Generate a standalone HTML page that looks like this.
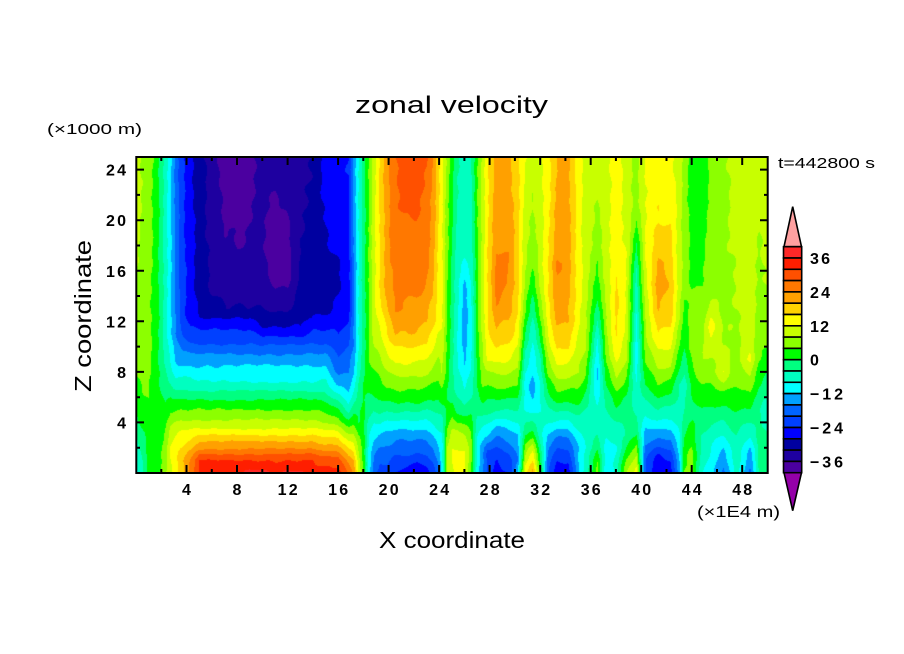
<!DOCTYPE html>
<html>
<head>
<meta charset="utf-8">
<style>
  html,body{margin:0;padding:0;background:#fff;}
  #wrap{position:relative;width:904px;height:654px;overflow:hidden;background:#fff;}
  #cv{position:absolute;left:136px;top:157px;width:632px;height:316px;}
  #ov{position:absolute;left:0;top:0;}
  text{font-family:"Liberation Sans",sans-serif;fill:#000;}
  .tl{font-size:16px;font-weight:bold;}
</style>
</head>
<body>
<div id="wrap">
<canvas id="cv" width="632" height="316"></canvas>
<svg id="ov" width="904" height="654" viewBox="0 0 904 654" xmlns="http://www.w3.org/2000/svg">
  <rect x="136.3" y="157" width="631.4" height="316" fill="none" stroke="#000" stroke-width="2"/>
  <path stroke="#000" stroke-width="2" fill="none" d="
  M186.5 473V465 M237 473V465 M287.6 473V465 M338.1 473V465 M388.6 473V465 M439.1 473V465 M489.6 473V465 M540.2 473V465 M590.7 473V465 M641.2 473V465 M691.7 473V465 M742.2 473V465
  M161.3 473V469 M211.8 473V469 M262.3 473V469 M312.8 473V469 M363.3 473V469 M413.9 473V469 M464.4 473V469 M514.9 473V469 M565.4 473V469 M615.9 473V469 M666.5 473V469 M717 473V469
  M186.5 157V165 M237 157V165 M287.6 157V165 M338.1 157V165 M388.6 157V165 M439.1 157V165 M489.6 157V165 M540.2 157V165 M590.7 157V165 M641.2 157V165 M691.7 157V165 M742.2 157V165
  M161.3 157V161 M211.8 157V161 M262.3 157V161 M312.8 157V161 M363.3 157V161 M413.9 157V161 M464.4 157V161 M514.9 157V161 M565.4 157V161 M615.9 157V161 M666.5 157V161 M717 157V161
  M136 422.4H144 M136 371.9H144 M136 321.3H144 M136 270.8H144 M136 220.2H144 M136 169.6H144
  M136 447.7H140 M136 397.2H140 M136 346.6H140 M136 296H140 M136 245.5H140 M136 194.9H140
  M768 422.4H760 M768 371.9H760 M768 321.3H760 M768 270.8H760 M768 220.2H760 M768 169.6H760
  M768 447.7H764 M768 397.2H764 M768 346.6H764 M768 296H764 M768 245.5H764 M768 194.9H764
  "/>
  <g class="tl" text-anchor="end">
    <text x="126" y="428.4">4</text>
    <text x="126" y="377.9">8</text>
    <text x="126" y="327.3" textLength="20">12</text>
    <text x="126" y="276.8" textLength="20">16</text>
    <text x="126" y="226.2" textLength="20">20</text>
    <text x="126" y="175.6" textLength="20">24</text>
  </g>
  <g class="tl" text-anchor="middle">
    <text x="186.5" y="495">4</text>
    <text x="237" y="495">8</text>
    <text x="287.6" y="495" textLength="20">12</text>
    <text x="338.1" y="495" textLength="20">16</text>
    <text x="388.6" y="495" textLength="20">20</text>
    <text x="439.1" y="495" textLength="20">24</text>
    <text x="489.6" y="495" textLength="20">28</text>
    <text x="540.2" y="495" textLength="20">32</text>
    <text x="590.7" y="495" textLength="20">36</text>
    <text x="641.2" y="495" textLength="20">40</text>
    <text x="691.7" y="495" textLength="20">44</text>
    <text x="742.2" y="495" textLength="20">48</text>
  </g>
  <text x="697" y="517" font-size="16" textLength="83" lengthAdjust="spacingAndGlyphs">(×1E4 m)</text>
  <text x="47" y="134" font-size="15" textLength="95" lengthAdjust="spacingAndGlyphs">(×1000 m)</text>
  <text x="778" y="168" font-size="15" textLength="97" lengthAdjust="spacingAndGlyphs">t=442800 s</text>
  <text x="355" y="113" font-size="24" textLength="193" lengthAdjust="spacingAndGlyphs">zonal velocity</text>
  <text x="452" y="548" font-size="23" text-anchor="middle" textLength="146" lengthAdjust="spacingAndGlyphs">X coordinate</text>
  <text transform="translate(91,316) rotate(-90)" font-size="23" text-anchor="middle" textLength="152" lengthAdjust="spacingAndGlyphs">Z coordinate</text>

  <g stroke="#000" stroke-width="1.6">
    <polygon points="784,246.7 801.5,246.7 792.7,206.7" fill="#ffa0a0"/>
    <polygon points="784,472.7 801.5,472.7 792.7,510.7" fill="#9400a8"/>
    <rect x="783.5" y="246.7" width="18.2" height="11.3" fill="#ff2828"/>
    <rect x="783.5" y="258.0" width="18.2" height="11.3" fill="#ff1e00"/>
    <rect x="783.5" y="269.3" width="18.2" height="11.3" fill="#ff5000"/>
    <rect x="783.5" y="280.6" width="18.2" height="11.3" fill="#ff7800"/>
    <rect x="783.5" y="291.9" width="18.2" height="11.3" fill="#ffa000"/>
    <rect x="783.5" y="303.2" width="18.2" height="11.3" fill="#ffd200"/>
    <rect x="783.5" y="314.5" width="18.2" height="11.3" fill="#ffff00"/>
    <rect x="783.5" y="325.8" width="18.2" height="11.3" fill="#c8ff00"/>
    <rect x="783.5" y="337.1" width="18.2" height="11.3" fill="#8cff00"/>
    <rect x="783.5" y="348.4" width="18.2" height="11.3" fill="#00ff00"/>
    <rect x="783.5" y="359.7" width="18.2" height="11.3" fill="#00ff80"/>
    <rect x="783.5" y="371.0" width="18.2" height="11.3" fill="#00ffc0"/>
    <rect x="783.5" y="382.3" width="18.2" height="11.3" fill="#00ffff"/>
    <rect x="783.5" y="393.6" width="18.2" height="11.3" fill="#00a0ff"/>
    <rect x="783.5" y="404.9" width="18.2" height="11.3" fill="#0064ff"/>
    <rect x="783.5" y="416.2" width="18.2" height="11.3" fill="#0040ff"/>
    <rect x="783.5" y="427.5" width="18.2" height="11.3" fill="#0000ff"/>
    <rect x="783.5" y="438.8" width="18.2" height="11.3" fill="#0000a0"/>
    <rect x="783.5" y="450.1" width="18.2" height="11.3" fill="#1e00a0"/>
    <rect x="783.5" y="461.4" width="18.2" height="11.3" fill="#4b00a0"/>
  </g>
  <g class="tl" font-size="15">
    <text x="810" y="264" textLength="20">36</text>
    <text x="810" y="297.9" textLength="20">24</text>
    <text x="810" y="331.8" textLength="19">12</text>
    <text x="810" y="365.7">0</text>
    <text x="810" y="399.6" textLength="33">−12</text>
    <text x="810" y="433.5" textLength="33">−24</text>
    <text x="810" y="467.4" textLength="33">−36</text>
  </g>
</svg>
</div>
<script>
(function(){
  var L=[[0,36],[1,32],[1.5,28],[1.9,24],[2.5,20],[3,16],[3.5,12],[4.2,8],[5,4],[5.8,0],[6.5,-4],[7.2,-8],[8.5,-12],[9.4,-16],[10.2,-20],[11.3,-24],[12.3,-28]];
  var L2=[[0,36],[1,32],[1.5,28],[1.9,24],[2.5,20],[3,16],[3.5,12],[4.2,8],[5,4],[5.8,0],[6.5,-4],[7.2,-8],[8.5,-12],[9.4,-16],[10.1,-20],[10.8,-24],[11.6,-28]];
  function jet(b,up){var p=L.map(function(a){return a.slice();});p[0][1]=b;return p.concat(up);}
  function jet2(b,up){var p=L2.map(function(a){return a.slice();});p[0][1]=b;return p.concat(up);}
  var cols=[
  [0,[[0,-9],[2,-6],[4,-2],[6,2],[8,5],[12,7],[18,9],[25,10]]],
  [0.4,[[0,-6],[2,-3],[4,1],[6,3],[8,5],[12,7],[25,8]]],
  [1.0,[[0,1],[3,2],[6,4],[10,5],[25,6]]],
  [1.5,[[0,3],[3,3],[6,2],[10,2],[25,3]]],
  [1.9,[[0,4],[3,3],[6,0],[10,-1],[25,-1]]],
  [2.3,[[0,7],[3,5],[5,1],[7,-3],[10,-6],[25,-6]]],
  [2.7,[[0,11],[2,12],[4,7],[6,0],[8,-7],[11,-11],[25,-11]]],
  [3.1,[[0,15],[2,15],[4,8],[6,-1],[8,-10],[11,-16],[25,-17]]],
  [3.6,[[0,18],[1,19],[3,14],[5,4],[7,-6],[9,-14],[12,-22],[25,-23]]],
  [4.3,[[0,26],[1,24],[2,19],[3,14],[4,9],[5,4],[6,-1],[7,-6],[8,-10],[9,-14],[10,-19],[11,-23],[12.5,-26],[25,-27]]],
  [5.0,jet(33,[[14,-29.5],[25,-30.5]])],
  [6.0,jet(35,[[13.5,-31],[15,-33],[25,-34]])],
  [7.0,jet(35,[[13,-32],[16,-34],[18,-35],[20,-36.5],[25,-38]])],
  [8.0,jet(35,[[13,-32],[16,-35],[19,-36.5],[21,-38],[25,-39]])],
  [9.0,jet(37,[[13,-32],[16,-34.5],[20,-36],[25,-37]])],
  [10.0,jet2(37,[[13,-32],[17,-35.5],[20,-35],[25,-34]])],
  [11.0,jet2(35,[[12.5,-32],[15,-37],[17,-39],[20,-38],[22,-36],[25,-34]])],
  [12.0,jet2(37,[[12.5,-31],[14.5,-36],[16,-38],[19,-37],[22,-35],[25,-35]])],
  [13.0,jet2(37,[[13,-30],[16,-31],[20,-32.5],[25,-34]])],
  [14.0,jet(34,[[13,-28.5],[16,-29.5],[20,-30],[25,-32]])],
  [15.0,[[0,34],[1,30],[2,22],[3,15],[4,8],[5,3],[6,-2],[7,-7],[8.5,-12],[9.4,-16],[10.2,-20],[11.3,-24],[13,-29],[16,-30],[19,-28],[25,-26]]],
  [16.0,[[0,34],[1,30],[2,22],[3,14],[4,6],[5,0],[6,-6],[7,-13],[8,-17],[10,-22],[12,-26],[15,-29],[18,-27],[25,-25]]],
  [16.8,[[0,28],[1,22],[2,16],[3,8],[4,2],[5,-6],[7,-14],[10,-20],[13,-26],[17,-26],[25,-24]]],
  [17.2,[[0,24],[1,20],[3,8],[5,-2],[7,-10],[10,-16],[15,-17],[25,-14]]],
  [17.6,[[0,12],[2,8],[4,0],[7,-4],[10,-8],[25,-8]]],
  [18.0,[[0,2],[2,2],[5,1],[10,-2],[25,-2]]],
  [18.4,[[0,-10],[3,-8],[5,-2],[8,3],[12,4],[25,4]]],
  [18.8,[[0,-18],[2,-14],[4,-8],[6,0],[8,4],[10,8],[14,11],[25,10]]],
  [19.3,[[0,-22],[1.5,-18],[3,-12],[4.5,-5],[6,1],[8,5],[10,10],[14,16],[25,17]]],
  [19.9,[[0,-22],[2,-17],[3,-13],[4,-9],[5,-3],[6,2],[7.5,6],[9,11],[11,16],[14,22],[20,23],[25,23]]],
  [20.5,[[0,-24],[1.3,-20],[2.6,-16],[3.4,-12],[4.2,-8],[4.8,-4],[5.5,0],[6.6,4],[7.6,8],[8.7,12],[10,16],[11,20],[13,24],[17,26],[21,27],[25,28]]],
  [21.2,[[0,-26],[1.3,-20],[2.6,-16],[3.4,-12],[4.2,-8],[4.8,-4],[5.5,0],[6.6,4],[7.6,8],[8.7,12],[10,16],[11,20],[13,24],[17,26],[20.5,28],[25,30]]],
  [22.2,[[0,-28],[1.3,-21],[2.6,-16],[3.4,-12],[4.2,-8],[4.8,-4],[5.5,0],[6.6,4],[7.6,8],[8.7,12],[10,16],[11,20],[14,24],[17,26.5],[21,28.5],[25,30]]],
  [23.0,[[0,-26],[1.5,-20],[3,-14],[4.2,-8],[5.5,-1],[7,5],[8.7,11],[10,15],[12,20],[15,24],[20,26],[25,28]]],
  [23.5,[[0,-22],[2,-16],[4,-8],[5.5,-1],[7,4],[9,10],[12,17],[15,21],[25,24]]],
  [23.9,[[0,-18],[2,-12],[4,-6],[6,0],[8,6],[12,14],[25,18]]],
  [24.2,[[0,-10],[2,-10],[4,-6],[6,2],[8,8],[12,13],[25,13]]],
  [24.6,[[0,8],[2,8],[4,2],[6,0],[8,2],[12,4],[25,7]]],
  [25.0,[[0,12],[2,12],[4,6],[6,-2],[8,-3],[12,-2],[25,2]]],
  [25.4,[[0,14],[1,14],[3,10],[5,-2],[7,-6],[10,-8],[14,-7],[25,-3]]],
  [26.0,[[0,12],[2,12],[4,4],[5,-3],[7,-9],[9,-13],[12,-14],[15,-13],[17,-8],[25,-6]]],
  [26.5,[[0,4],[2,6],[4,2],[6,-4],[9,-9],[12,-10],[16,-7],[25,-4]]],
  [27.0,[[0,-10],[3,-8],[5,-3],[7,0],[10,2],[14,3],[25,4]]],
  [27.4,[[0,-16],[2,-14],[4,-6],[6,2],[8,6],[12,10],[25,9]]],
  [27.8,[[0,-20],[1.5,-22],[3,-12],[5,-2],[7,4],[9,12],[12,16],[25,15]]],
  [28.5,[[0,-26],[1,-24],[2,-20],[3,-16],[4,-10],[5,-4],[6,1],[7,5],[8,9],[9,13],[10,17],[12,21],[14,25],[16,26],[18,23],[25,22]]],
  [29.5,[[0,-24],[1,-22],[2,-18],[3,-14],[4,-9],[5,-4],[6,1],[7,5],[8,9],[9,12],[11,18],[13,22],[16,24],[25,21]]],
  [30.2,[[0,-12],[1,-16],[3,-12],[5,-4],[7,4],[9,10],[11,14],[15,18],[25,17]]],
  [30.8,[[0,14],[1,10],[3,0],[5,-8],[7,-10],[9,-6],[11,0],[13,5],[16,8],[25,12]]],
  [31.4,[[0,22],[1.5,14],[3,2],[5,-10],[6.5,-14],[8,-11],[11,-8],[13,-3],[14.5,1],[16,4],[20,7],[25,10]]],
  [32.0,[[0,2],[1,0],[3,-6],[5,-8],[7,-8],[9,-4],[11,2],[13,6],[16,10],[25,11]]],
  [32.6,[[0,-20],[2,-16],[4,-8],[6,-1],[8,5],[11,12],[14,16],[25,14]]],
  [33.3,[[0,-26],[1.5,-22],[3,-15],[4,-9],[5,-3],[6,2],[7.5,8],[9,14],[11,19],[13,22],[16.5,25],[18,22],[25,20]]],
  [34.2,[[0,-26],[1.5,-22],[3,-15],[4,-9],[5,-3],[6,2],[7.5,8],[9,13],[10,16],[12,20],[16,22],[25,21]]],
  [35.0,[[0,-12],[2,-12],[4,-6],[6,2],[8,8],[11,12],[14,14],[25,14]]],
  [35.6,[[0,-6],[2,-8],[5,-4],[7,2],[10,8],[15,10],[25,10]]],
  [36.5,[[0,6],[1,4],[3,-4],[5,-8],[7.5,-13],[9,-11],[11,-7],[13,-2],[15,2],[18,6],[25,9]]],
  [37.2,[[0,-12],[2,-10],[4,-6],[6,-2],[9,4],[12,8],[16,10],[25,11]]],
  [38.0,[[0,-6],[2,-8],[4,-4],[6,2],[8,10],[10,16],[14,17],[18,14],[25,14]]],
  [38.8,[[0,8],[1,4],[3,-4],[6,0],[9,8],[12,12],[16,12],[25,10]]],
  [39.6,[[0,14],[1.5,8],[3,0],[5,-6],[7,-8],[9,-10],[12,-9],[15,-6],[17,-2],[19,2],[21,6],[25,7]]],
  [40.3,[[0,-20],[1,-20],[3,-14],[5,-6],[7,0],[10,6],[14,10],[18,12],[25,12]]],
  [41.3,[[0,-28],[1.5,-24],[3,-14],[5,-4],[7,4],[9,10],[11,16],[13,20],[15,22],[17,20],[20,16],[25,14]]],
  [42.3,[[0,-26],[1.5,-22],[3,-14],[5,-5],[7,3],[9,10],[12,17],[15,20],[18,17],[25,13]]],
  [43.0,[[0,-14],[1,-12],[3,-8],[5,-6],[7,-4],[9,2],[12,8],[16,10],[25,10]]],
  [43.4,[[0,4],[2,2],[4,-2],[7,-6],[10,0],[15,6],[25,6]]],
  [44.0,[[0,6],[1,6],[3,2],[5,-2],[7,2],[10,6],[13,5],[16,3],[25,2]]],
  [44.8,[[0,-8],[3,-4],[5,0],[7,4],[9,8],[12,6],[16,3],[25,1]]],
  [45.5,[[0,-10],[2,-8],[4,-4],[6,2],[9,8],[11.5,14],[14,7],[18,6],[25,5]]],
  [46.5,[[0,-17],[1.5,-14],[3,-8],[4,-4],[6,2],[8,12],[10,8],[14,7],[25,7]]],
  [47.5,[[0,-6],[3,-4],[5,0],[7,4],[10,7],[14,8],[25,10]]],
  [48.6,[[0,-17],[1.5,-14],[3,-8],[4,-4],[6,3],[9,13],[10,11],[14,10],[25,11]]],
  [49.3,[[0,-4],[3,-2],[5,-4],[7,0],[9,4],[12,6],[25,10]]],
  [50.0,[[0,0],[3,-4],[5,-6],[7,-2],[10,4],[14,8],[25,10]]]
  ];
  function prof(a,z){
    if(z<=a[0][0]) return a[0][1];
    for(var k=1;k<a.length;k++){
      if(z<=a[k][0]){var t=(z-a[k-1][0])/(a[k][0]-a[k-1][0]);return a[k-1][1]+t*(a[k][1]-a[k-1][1]);}
    }
    return a[a.length-1][1];
  }
  var pal=["#9400a8","#4b00a0","#1e00a0","#0000a0","#0000ff","#0040ff","#0064ff","#00a0ff","#00ffff","#00ffc0","#00ff80","#00ff00","#8cff00","#c8ff00","#ffff00","#ffd200","#ffa000","#ff7800","#ff5000","#ff1e00","#ff2828","#ffa0a0"];
  var rgb=pal.map(function(h){return [parseInt(h.substr(1,2),16),parseInt(h.substr(3,2),16),parseInt(h.substr(5,2),16)];});
  var cv=document.getElementById('cv');
  var ctx=cv.getContext('2d');
  var W=cv.width,H=cv.height;
  var img=ctx.createImageData(W,H);
  var d=img.data;
  var n=cols.length;
  var cv2=new Array(n);
  for(var j=0;j<H;j++){
    var py=157+j+0.5;
    var Z=(473-py)/12.64;
    for(var k=0;k<n;k++) cv2[k]=prof(cols[k][1],Z);
    var kk=0;
    for(var i=0;i<W;i++){
      var px=136+i+0.5;
      var X=(px-136.3)/12.63;
      if(X<0)X=0; if(X>50)X=50;
      while(kk<n-2 && X>cols[kk+1][0]) kk++;
      var x0=cols[kk][0],x1=cols[kk+1][0];
      var t=(X-x0)/(x1-x0); if(t<0)t=0; if(t>1)t=1;
      var v=cv2[kk]+t*(cv2[kk+1]-cv2[kk]);
      v+=0.6*Math.sin(X*2.3+Z*1.1)*Math.sin(X*1.7-Z*1.9);
      var idx;
      if(v<-40) idx=0; else if(v>=40) idx=21; else idx=Math.floor((v+40)/4)+1;
      var c=rgb[idx];
      var o=(j*W+i)*4;
      d[o]=c[0];d[o+1]=c[1];d[o+2]=c[2];d[o+3]=255;
    }
  }
  ctx.putImageData(img,0,0);
})();
</script>
</body>
</html>
